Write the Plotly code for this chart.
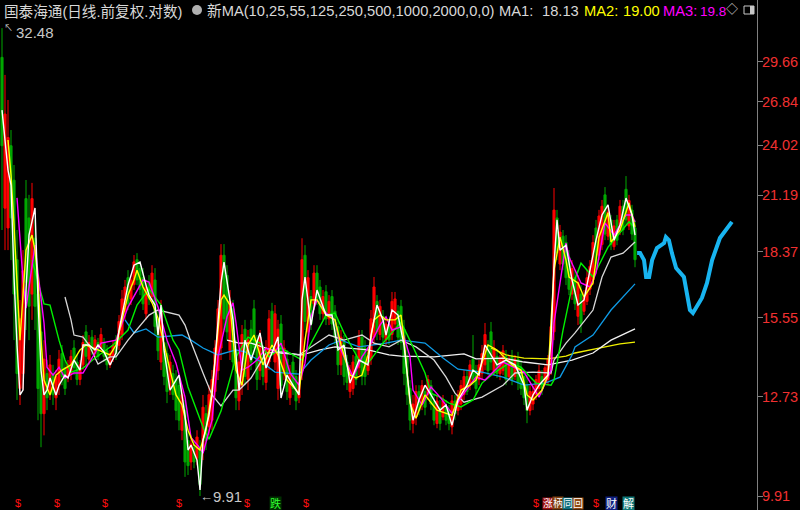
import plotly.graph_objects as go
import math

opens = [30.0,20.5,19.5,24.0,22.0,18.0,13.0,13.5,21.0,20.0,
16.5,19.0,16.5,15.0,12.2,13.5,12.9,13.5,12.7,13.1,
14.2,13.7,13.4,13.5,14.4,13.9,13.3,13.8,15.0,14.0,
14.8,14.2,14.6,14.4,14.6,14.3,13.8,14.1,14.7,14.5,
14.9,15.8,17.2,16.3,16.9,18.0,17.6,17.2,15.7,17.0,
16.4,17.1,15.5,13.9,14.6,14.2,13.0,13.5,13.3,13.1,
11.7,12.3,11.4,10.8,11.2,10.9,11.2,11.1,12.2,11.8,
12.0,12.9,13.6,14.4,18.2,17.3,14.3,15.9,14.3,12.6,
13.1,15.1,13.3,15.1,15.9,14.6,13.6,14.3,13.2,13.9,
15.8,13.9,13.0,15.3,13.5,14.0,12.7,13.9,13.4,12.7,
13.6,18.2,15.0,16.4,16.1,17.4,16.8,15.7,16.6,15.5,
16.4,15.8,15.2,13.8,14.6,13.9,12.9,13.0,14.1,13.7,
14.8,14.4,13.6,14.0,14.8,16.2,14.9,15.6,14.7,15.2,
14.9,15.3,15.8,16.0,15.1,14.1,13.0,11.9,12.1,12.9,
12.5,12.9,12.8,13.1,12.6,11.9,12.4,12.1,12.4,12.3,
11.8,12.6,12.3,12.5,12.8,13.4,13.1,14.0,13.6,13.3,
13.5,13.8,14.5,15.0,13.6,14.1,13.5,13.6,14.1,13.4,
14.1,13.4,14.0,13.7,13.4,13.1,12.3,12.5,12.8,13.0,
13.4,13.2,13.3,13.6,15.0,20.0,17.8,19.1,18.8,18.1,
16.5,17.2,15.6,16.5,15.8,16.2,16.7,17.1,19.5,18.2,
18.7,21.2,19.1,19.9,18.6,19.9,19.3,20.6,21.5,19.6,
20.4,19.5]
closes = [24.0,26.0,24.5,20.0,16.5,13.5,15.5,17.5,17.0,16.0,
21.0,16.0,13.0,12.2,14.0,12.7,13.8,12.8,13.4,14.0,
13.4,13.0,13.8,14.1,13.7,13.3,13.8,14.6,14.1,14.6,
14.3,14.7,14.1,14.9,14.1,13.8,14.2,14.5,14.2,15.4,
16.3,16.8,16.1,17.1,17.9,17.1,16.7,16.1,16.8,16.3,
17.4,15.2,14.3,15.8,13.4,12.9,13.9,12.8,12.3,12.0,
12.8,10.8,10.7,11.3,10.8,11.5,10.2,12.4,11.4,12.8,
13.3,14.4,15.9,18.2,15.5,15.0,16.2,13.9,12.7,13.9,
14.9,13.4,14.7,13.9,14.4,13.3,14.8,13.4,14.4,15.5,
14.4,15.7,15.1,13.1,14.4,12.9,13.5,13.0,12.6,13.2,
18.0,15.4,17.2,15.3,17.4,16.3,15.7,16.4,15.5,16.2,
15.3,14.8,13.8,14.8,13.4,13.2,13.5,13.9,13.3,14.8,
13.4,13.4,14.1,15.5,16.8,15.0,16.0,14.8,15.3,14.7,
16.2,16.3,14.8,14.6,13.5,12.8,12.0,12.5,12.9,12.3,
13.1,12.4,13.3,12.5,12.0,12.6,11.9,12.6,12.0,11.9,
12.6,12.2,12.8,13.1,13.4,12.9,13.8,13.3,13.0,13.8,
14.2,14.9,13.6,13.9,14.4,13.5,14.0,14.3,13.3,14.0,
13.3,14.0,13.2,13.0,12.7,12.3,12.9,12.9,13.3,13.6,
13.0,13.7,14.0,15.2,20.4,18.3,19.3,17.8,17.2,16.7,
17.6,16.1,17.0,15.3,16.4,17.2,17.7,18.8,17.8,20.1,
20.6,19.2,20.3,18.7,19.6,18.9,20.6,19.4,19.9,20.9,
19.2,18.0]
highs = [32.3,28.7,26.94,24.97,22.86,19.40,16.26,18.44,22.01,21.2,
21.85,19.9,17.1,16.26,14.69,13.97,14.15,13.8,13.62,14.33,
14.51,13.97,13.97,14.33,14.69,14.15,13.97,14.88,15.26,14.88,
15.07,14.88,14.77,15.15,14.77,14.51,14.33,14.69,14.88,15.65,
16.67,17.10,17.53,17.31,18.21,18.30,17.89,17.62,17.10,17.31,
17.75,17.62,15.85,16.26,14.88,14.69,14.15,13.80,13.62,13.45,
13.11,12.63,11.70,11.55,11.41,11.70,11.41,12.79,12.47,13.11,
13.62,14.69,16.26,18.72,18.72,17.75,16.67,16.26,14.69,14.33,
15.26,15.46,15.07,15.46,16.26,14.88,15.07,14.51,14.69,15.85,
16.14,16.05,15.46,15.65,14.69,14.33,13.80,14.15,13.62,13.45,
19.0,18.67,17.53,16.67,17.75,17.75,17.10,16.67,16.88,16.46,
16.67,16.05,15.46,15.07,14.88,14.15,13.80,14.15,14.33,15.07,
15.07,14.69,14.33,15.85,17.23,16.46,16.26,15.85,15.46,15.46,
16.59,16.59,16.05,16.26,15.46,14.51,13.28,12.79,13.11,13.11,
13.28,13.11,13.45,13.28,12.79,12.79,12.63,12.79,12.63,12.47,
12.79,12.79,12.95,13.28,13.62,13.62,13.97,14.88,13.80,13.97,
14.51,15.34,14.69,15.38,14.69,14.33,14.15,14.51,14.33,14.15,
14.33,14.15,14.26,13.97,13.62,13.45,13.11,13.11,13.45,13.80,
13.62,13.80,14.15,15.46,21.57,20.41,19.65,19.40,19.15,18.44,
17.98,17.53,17.31,16.88,16.67,17.53,17.98,19.15,19.90,20.41,
20.93,21.62,20.67,20.15,19.90,20.15,20.93,20.93,22.23,21.20,
20.67,19.90]
lows = [19.40,18.44,18.44,17.98,14.69,12.63,12.47,12.95,15.07,14.69,
15.46,15.07,12.00,11.21,11.55,12.31,12.63,12.47,12.31,12.79,
13.11,12.79,13.21,13.28,13.45,13.11,13.11,13.62,13.80,13.80,
14.15,13.97,13.97,14.26,13.90,13.62,13.69,13.90,13.97,14.33,
14.69,15.46,15.85,16.05,16.67,16.88,16.46,15.85,15.46,16.05,
16.26,14.88,13.97,13.62,13.11,12.53,12.79,12.63,12.00,11.70,
11.41,10.40,10.45,10.58,10.63,10.71,9.91,10.85,11.13,11.55,
11.70,12.63,13.28,13.97,15.07,14.69,13.97,13.62,12.31,12.31,
12.79,13.11,12.95,13.62,14.15,12.95,13.28,13.11,12.95,13.62,
14.15,13.62,12.63,12.79,13.28,12.63,12.47,12.79,12.31,12.53,
13.28,15.07,14.69,15.07,15.85,16.05,15.46,15.46,15.26,15.26,
15.07,14.51,13.45,13.45,13.11,12.95,12.69,12.79,13.11,13.45,
13.11,13.11,13.45,13.80,14.51,14.69,14.69,14.51,14.51,14.51,
14.69,15.07,14.51,14.33,13.11,12.47,11.70,11.61,11.85,12.15,
12.31,12.15,12.63,12.31,11.85,11.76,11.70,12.00,11.85,11.70,
11.58,12.00,12.15,12.31,12.63,12.79,12.95,13.11,12.79,13.11,
13.28,13.62,13.45,13.62,13.45,13.35,13.28,13.45,13.11,13.28,
13.11,13.28,12.95,12.79,12.47,11.91,12.15,12.31,12.63,12.79,
12.79,13.11,13.11,13.45,14.69,17.98,17.53,17.53,16.88,16.46,
16.26,15.85,15.26,14.96,15.65,16.05,16.46,16.88,17.53,17.98,
18.44,18.91,18.91,18.44,18.44,18.67,19.15,19.15,19.65,19.40,
18.91,17.66]
days = list(range(len(opens)))

ma10_days = [0,2,3,4,5,6,7,8,9,11,12,13,14,15,16,18,19,21,22,24,26,27,29,31,32,34,36,38,39,41,42,44,46,48,49,51,52,53,54,56,57,59,61,62,63,65,66,67,69,70,71,73,74,75,77,79,81,83,86,88,92,93,95,97,99,100,101,103,105,108,110,112,114,116,119,122,123,125,127,128,130,132,134,136,137,139,141,143,146,148,150,152,155,157,159,161,163,165,168,171,174,175,177,179,182,183,184,185,186,188,190,192,194,196,198,200,202,204,206,208,210,211]
ma10 = [26.26,22.57,21.73,17.23,14.51,12.79,12.95,16.67,19.15,20.51,16.26,13.62,12.79,12.95,13.35,12.79,13.11,13.45,13.35,13.97,13.62,14.51,14.51,14.33,14.51,14.26,13.80,14.22,15.07,16.26,16.88,17.75,17.89,16.88,16.46,16.05,14.88,16.05,14.33,12.95,13.11,13.45,12.15,11.13,11.27,10.85,10.06,11.41,12.15,12.79,13.97,16.97,17.89,16.97,15.46,12.95,14.69,13.97,14.96,13.69,14.81,12.69,13.45,13.11,12.79,16.26,17.23,15.26,16.67,15.65,15.65,14.33,14.51,13.18,13.97,13.80,14.88,16.05,15.46,14.88,15.85,15.65,14.51,12.63,12.00,12.63,13.11,12.79,12.31,12.47,11.85,12.63,13.11,13.62,13.45,14.51,14.15,13.80,13.97,13.80,13.11,12.31,12.79,13.11,13.45,14.69,17.75,19.90,18.44,18.67,17.10,16.05,16.26,17.53,18.91,20.15,20.67,18.91,19.65,21.03,20.15,19.15]

ma25_days = [2,3,4,5,6,8,10,11,12,13,14,16,18,20,23,26,28,32,36,38,40,42,44,45,47,50,52,54,56,58,60,62,64,66,68,70,72,73,74,76,78,80,82,84,87,90,92,95,99,101,103,105,108,111,113,116,118,120,122,124,126,128,131,133,134,136,138,141,145,150,153,156,158,162,165,170,173,175,177,180,182,183,184,186,188,189,192,194,197,199,202,203,206,209,211]
ma25 = [24.35,22.29,19.65,16.67,14.69,18.44,19.15,18.44,17.10,14.69,13.28,12.79,13.45,13.62,13.80,14.33,14.51,14.33,14.15,14.51,15.46,16.46,17.10,17.53,16.80,16.14,15.53,14.51,13.62,12.79,12.47,11.70,11.27,11.13,11.70,12.95,15.07,16.26,16.46,16.05,13.62,13.11,14.51,14.88,13.80,14.51,14.15,13.28,12.85,14.69,16.26,16.26,15.65,15.46,14.51,13.45,13.35,13.45,14.15,15.46,15.65,15.46,15.46,15.65,14.69,12.53,12.06,12.79,12.31,12.15,12.95,13.11,13.28,14.51,14.33,13.80,13.62,12.79,12.63,12.95,13.45,15.58,17.53,19.05,17.98,17.23,16.97,16.38,16.97,19.05,20.26,18.82,19.40,20.77,19.55]

ma55_days = [5,6,7,8,9,11,12,14,15,17,19,21,24,27,31,33,38,42,47,49,52,55,58,61,63,66,67,70,72,75,77,78,80,82,85,88,91,93,96,99,101,103,105,108,111,113,117,120,123,126,128,130,133,136,137,140,143,146,150,153,158,161,167,171,174,179,183,184,186,188,189,191,193,196,198,201,204,208,210,211]
ma55 = [21.04,19.06,17.10,15.93,16.80,18.67,17.40,15.34,13.72,13.45,13.72,13.35,13.52,13.52,14.22,14.58,14.69,15.97,17.10,17.01,15.97,14.69,13.86,12.72,11.49,11.18,11.04,12.00,14.08,15.58,16.14,15.34,13.62,13.72,13.97,14.40,14.26,14.58,13.52,13.11,13.86,15.58,16.26,15.73,15.46,14.33,13.38,14.08,14.58,15.26,15.58,15.07,15.19,14.08,12.95,12.47,13.05,12.72,12.21,12.72,13.38,13.28,13.90,13.69,13.55,12.72,13.62,15.34,16.97,18.77,18.12,17.53,16.97,16.80,17.40,19.75,19.15,20.15,20.15,19.80]

ma125_days = [10,14,16,19,21,23,27,31,37,42,45,49,53,57,59,62,67,69,73,78,82,86,89,93,100,103,108,111,114,119,122,127,133,137,141,143,146,149,153,157,160,164,169,173,178,183,184,187,190,193,197,202,209,211]
ma125 = [17.98,16.10,16.05,14.69,13.97,13.55,13.69,14.04,14.51,15.07,16.05,16.71,16.05,14.69,14.33,13.05,11.79,11.44,12.28,14.08,14.80,14.58,14.08,14.40,13.97,14.58,15.65,15.73,14.96,13.97,13.86,14.58,15.38,14.44,13.52,12.85,12.72,12.53,12.41,12.63,13.18,13.52,13.86,13.72,13.18,13.11,13.28,15.07,16.80,17.84,17.23,18.58,19.80,19.50]

ma250_days = [21,23,24,27,29,32,36,38,42,44,49,52,59,61,63,67,70,73,77,79,83,86,88,93,99,104,109,114,120,124,129,133,138,144,148,151,154,160,167,171,177,183,184,188,191,197,200,203,207,211]
ma250 = [16.38,15.46,14.88,14.80,14.51,13.83,14.08,14.08,14.69,14.96,15.65,15.85,15.65,15.26,14.62,13.52,12.79,12.44,12.95,12.95,13.35,13.86,14.22,14.26,14.15,14.51,14.88,14.69,14.88,14.58,14.44,14.69,14.44,13.97,13.38,12.85,12.56,12.72,13.11,13.52,13.55,13.52,13.97,14.58,14.96,15.85,17.23,18.12,18.30,18.82]

ma500_days = [41,44,48,52,60,63,67,72,78,81,87,91,99,103,109,113,119,128,133,141,147,152,160,167,174,181,186,190,191,197,203,211]
ma500 = [15.46,14.96,15.11,14.80,14.88,14.69,14.40,14.15,14.33,14.26,13.86,13.55,13.48,13.97,14.51,14.69,14.44,14.58,14.69,14.58,14.04,13.65,13.55,13.38,13.11,13.18,13.38,14.15,14.44,14.88,15.85,16.93]

ma1000_days = [75,79,83,87,93,100,106,111,122,129,133,144,154,158,167,174,182,190,197,203,211]
ma1000 = [14.69,14.58,14.58,14.44,14.22,14.15,14.33,14.44,14.33,14.15,14.11,14.08,14.19,14.01,14.04,13.90,13.80,13.97,14.22,14.69,15.11]

ma2000_days = [163,168,174,182,188,191,199,206,211]
ma2000 = [14.40,14.15,14.04,14.01,14.11,14.22,14.40,14.55,14.62]

sketch_days = [211.7,212.7,214,214.7,215.7,216.7,218.3,220.7,221.3,222.3,223.3,224.7,227.3,228.3,229.3,230.3,233.3,235,236.7,239.3,241.7,243.3]
sketch = [18.30,18.30,17.98,17.23,17.23,17.98,18.53,18.77,19.06,18.91,18.30,17.62,17.23,16.55,15.85,15.73,16.34,16.97,17.98,19.01,19.50,19.80]

tick_vals = [29.66,26.84,24.02,21.19,18.37,15.55,12.73,9.91]
tick_text = ["29.66","26.84","24.02","21.19","18.37","15.55","12.73","9.91"]

W, H, PW = 800, 510, 757
def px(x): return x / PW
def py(y): return 1 - y / H

fig = go.Figure()
fig.add_trace(go.Candlestick(x=days, open=opens, high=highs, low=lows, close=closes,
    increasing=dict(line=dict(color="#ff0000", width=1), fillcolor="#ff0000"),
    decreasing=dict(line=dict(color="#00a800", width=1), fillcolor="#00a800"),
    whiskerwidth=0, hoverinfo="skip", showlegend=False))

lines = [(ma2000_days, ma2000, "#f0f000", 1.3), (ma1000_days, ma1000, "#f2f2f2", 1.3),
         (ma500_days, ma500, "#0f9be6", 1.3), (ma250_days, ma250, "#d8d8d8", 1.3),
         (ma125_days, ma125, "#00f000", 1.4), (ma55_days, ma55, "#ff00ff", 1.4),
         (ma25_days, ma25, "#ffff00", 1.4), (ma10_days, ma10, "#ffffff", 1.4),
         (sketch_days, sketch, "#18b4f0", 4)]
for xs, ys, c, w in lines:
    fig.add_trace(go.Scatter(x=xs, y=ys, mode="lines", line=dict(color=c, width=w),
                             hoverinfo="skip", showlegend=False))

FONT = "Liberation Sans, Arial, Noto Sans CJK SC, sans-serif"
ann = []
def label(x, y, text, color="#d8d8d8", size=14.7, bg=None, anchor="left"):
    ann.append(dict(xref="paper", yref="paper", x=px(x), y=py(y), text=text, showarrow=False,
                    xanchor=anchor, yanchor="middle", font=dict(family=FONT, size=size, color=color),
                    bgcolor=bg, borderpad=0))

label(3, 11, "国泰海通(日线.前复权.对数)", size=14.6)
label(206, 11, "新MA(10,25,55,125,250,500,1000,2000,0,0)")
label(498, 11, "MA1:")
label(541, 11, "18.13")
label(583, 11, "MA2:", "#ffff00")
label(622, 11, "19.00", "#ffff00")
label(662, 11, "MA3:", "#ff00ff")
label(699, 11, "19.8", "#ff00ff", 13.5)
label(732, 10, "◇", "#d8d8d8", 12, anchor="center")
label(15, 33, "32.48", "#c8c8c8", 15)
label(3, 28, "↖", "#c8c8c8", 9)
label(212, 496, "9.91", "#c8c8c8", 15)
label(199, 496, "←", "#c8c8c8", 13)
for sx in [18, 57, 105, 179, 247, 306, 536, 596]:
    label(sx, 503, "$", "#ff1010", 11, anchor="center")
label(275, 503, "跌", "#30ff30", 11, "#003000", "center")
label(548, 503, "涨", "#ffffff", 10, "#a01010", "center")
label(558, 503, "柄", "#ffffff", 10, "#804010", "center")
label(568, 503, "同", "#ffffff", 10, "#107080", "center")
label(578, 503, "回", "#ffffff", 10, "#904810", "center")
label(611, 503, "财", "#ffffff", 11, "#102080", "center")
label(628, 503, "解", "#ffffff", 11, "#107878", "center")

shapes = [
    dict(type="circle", xref="paper", yref="paper", x0=px(192), x1=px(202), y0=py(15), y1=py(5),
         fillcolor="#b0b0b0", line=dict(width=0)),
    dict(type="rect", xref="paper", yref="paper", x0=px(744), x1=px(754), y0=py(14), y1=py(6),
         fillcolor="rgba(0,0,0,0)", line=dict(color="#c8c8c8", width=1)),
    dict(type="rect", xref="paper", yref="paper", x0=px(750), x1=px(754), y0=py(14), y1=py(6),
         fillcolor="#c8c8c8", line=dict(width=0)),
]

y_top = 9.91 * math.exp(496 / 396)
y_bot = 9.91 * math.exp(-14 / 396)
fig.update_layout(
    width=W, height=H, autosize=False, paper_bgcolor="#000", plot_bgcolor="#000",
    margin=dict(l=0, r=W - PW, t=0, b=0, autoexpand=False), showlegend=False, annotations=ann, shapes=shapes,
    boxgap=0, hovermode=False,
    xaxis=dict(range=[-0.67, PW / 3 - 0.67], rangeslider=dict(visible=False), visible=False),
    yaxis=dict(type="log", side="right", range=[math.log10(y_bot), math.log10(y_top)],
               tickmode="array", tickvals=tick_vals, ticktext=tick_text,
               tickfont=dict(family=FONT, size=14.5, color="#f03030"),
               ticks="outside", ticklen=5, tickcolor="#808080", tickwidth=1, automargin=False,
               ticklabelstandoff=-4,
               showline=True, linecolor="#808080", linewidth=1, showgrid=False, zeroline=False),
)
assert len(opens) == len(closes) == len(highs) == len(lows)
fig.write_html("out.html", config={"displayModeBar": False},
               post_script="document.body.style.margin='0';document.body.style.background='#000';")
